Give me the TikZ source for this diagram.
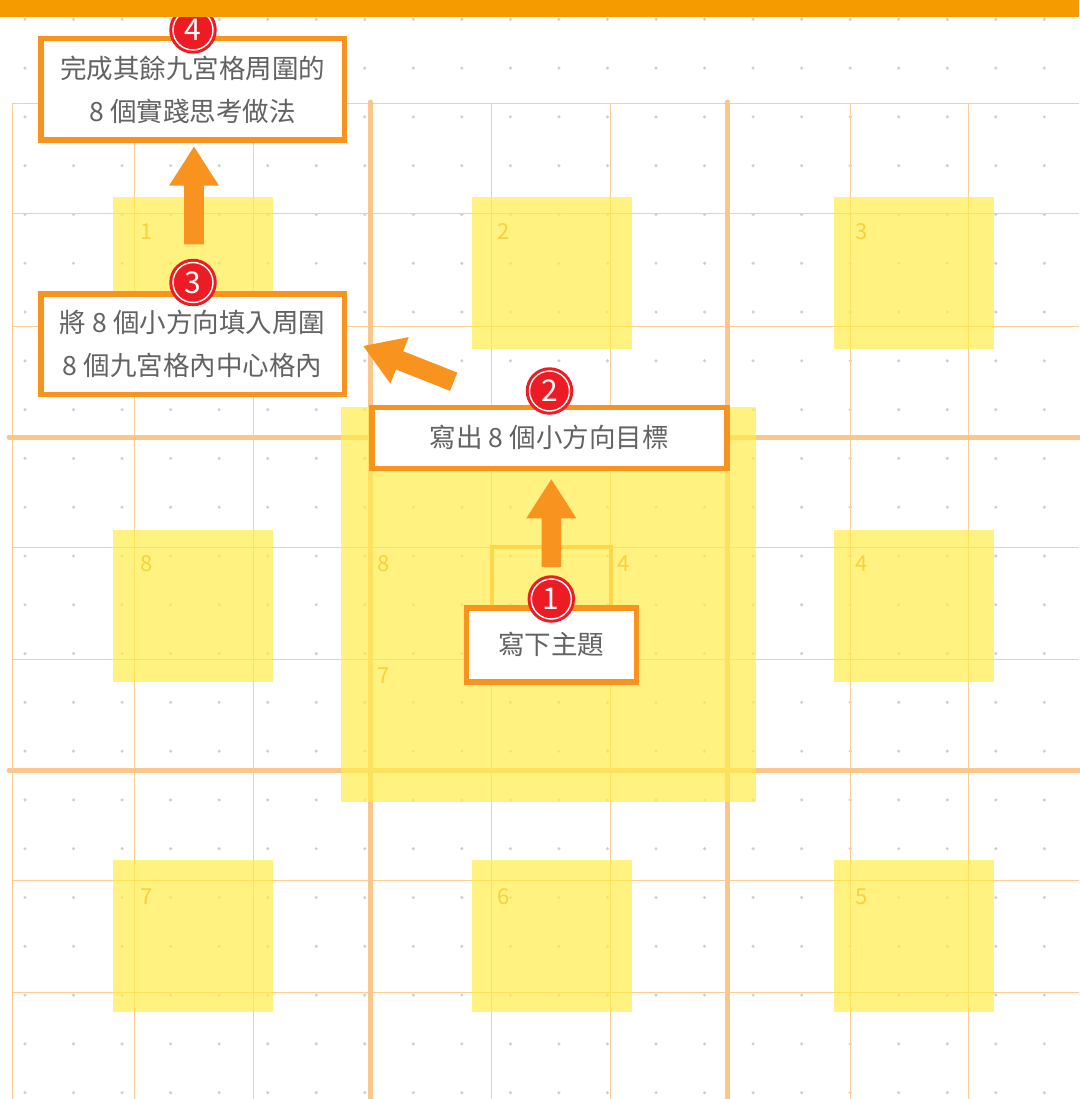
\documentclass[tikz,border=0pt]{standalone}
\usepackage{fontspec}
\setmainfont{Noto Sans CJK TC}
\usetikzlibrary{calc}
\definecolor{barorange}{HTML}{F59B00}
\definecolor{arroworange}{HTML}{F7931E}
\definecolor{gridorange}{HTML}{FDCD94}
\definecolor{thickorange}{HTML}{FBC68A}
\definecolor{stickyyellow}{HTML}{FFED45}
\definecolor{labelyellow}{HTML}{F9D13A}
\definecolor{celloutline}{HTML}{FDD84A}
\definecolor{dotgray}{HTML}{CFCFCF}
\definecolor{textgray}{HTML}{626262}
\definecolor{badgered}{HTML}{ED1C24}
\newcommand{\blockarrow}[2]{%
  \coordinate (tmpb) at ($(#2)!39pt!(#1)$);
  \fill[arroworange] ($(#1)!9.8pt!90:(#2)$) -- ($(tmpb)!9.8pt!90:(#2)$) -- ($(tmpb)!25pt!90:(#2)$) -- (#2)
    -- ($(tmpb)!25pt!-90:(#2)$) -- ($(tmpb)!9.8pt!-90:(#2)$) -- ($(#1)!9.8pt!-90:(#2)$) -- cycle;}
\begin{document}
\begin{tikzpicture}[x=1pt,y=-1pt,
  stepbox/.style={draw=arroworange, line width=5.5pt, fill=white, inner sep=0pt, text=textgray,
    font=\fontsize{26.5}{43}\selectfont, align=center},
  badge/.style={circle, fill=badgered, minimum size=47.5pt, inner sep=0pt, text=white,
    font=\fontsize{30}{30}\selectfont},
  ring/.style={white, line width=1.4pt},
  thinline/.style={gridorange, line width=1pt},
  thickline/.style={thickorange, line width=5pt, line cap=round},
  sticky/.style={fill=stickyyellow, fill opacity=0.68},
  celllabel/.style={text=labelyellow, font=\fontsize{22}{22}\selectfont, inner sep=0pt}
]
\useasboundingbox (0,0) rectangle (1079,1099);
\fill[white] (0,0) rectangle (1079,1099);
% dot grid
\foreach \i in {0,...,21}{
  \foreach \j in {0,...,22}{
    \fill[dotgray] ({25+48.54*\i},{19.3+48.79*\j}) circle[radius=1.7];
  }
}
% thin grid lines
\foreach \x in {12.3,134.3,253,491.5,610.7,850,968.3}{
  \draw[thinline] (\x,104) -- (\x,1099);
}
\foreach \y in {104,214,326,547,659,880,992}{
  \draw[thinline] (12.3,\y) -- (1079,\y);
}
% thick grid lines
\foreach \x in {370,727.7}{
  \draw[thickline] (\x,102) -- (\x,1102);
}
\foreach \y in {437,770}{
  \draw[thickline] (9,\y) -- (1082,\y);
}
% sticky notes
\foreach \x/\y in {113/197,472/197,834/197,113/530,834/530,113/860,472/860,834/860}{
  \fill[sticky] (\x,\y) rectangle ++(160,152);
}
\fill[sticky] (341,407) rectangle (756,802);
\draw[celloutline, line width=4pt] (491.5,547) rectangle (610.7,659);
% cell numbers
\node[celllabel] (n1) at (147,232) {1};
\node[celllabel] (n2) at (504,232) {2};
\node[celllabel] (n3) at (862,232) {3};
\node[celllabel] (n8) at (147,564) {8};
\node[celllabel] (n4) at (862,564) {4};
\node[celllabel] (n7) at (147,897) {7};
\node[celllabel] (n6) at (504,897) {6};
\node[celllabel] (n5) at (862,897) {5};
\node[celllabel] (c8) at (384,564) {8};
\node[celllabel] (c4) at (624,564) {4};
\node[celllabel] (c7) at (384,676) {7};
% step boxes
\node[stepbox, minimum width=303.5pt, minimum height=101.5pt] (box4) at (192.5,89.5)
  {完成其餘九宮格周圍的\\8 個實踐思考做法};
\node[stepbox, minimum width=303.5pt, minimum height=100.5pt] (box3) at (192.5,344)
  {將 8 個小方向填入周圍\\8 個九宮格內中心格內};
\node[stepbox, minimum width=355pt, minimum height=61pt] (box2) at (549.25,437.75)
  {寫出 8 個小方向目標};
\node[stepbox, minimum width=170pt, minimum height=74pt] (box1) at (551.25,644.75)
  {寫下主題};
% arrows
\coordinate (a1s) at (551.3,567);
\coordinate (a1t) at (551.3,479.3);
\coordinate (a2s) at (453.7,381.7);
\coordinate (a2t) at (363.3,346);
\coordinate (a3s) at (194,244.3);
\coordinate (a3t) at (194,146.7);
\blockarrow{a1s}{a1t}
\blockarrow{a2s}{a2t}
\blockarrow{a3s}{a3t}
% badges
\node[badge] (b1) at (551.3,599) {1};
\draw[ring] (b1.center) circle[radius=20];
\node[badge] (b2) at (549.5,391) {2};
\draw[ring] (b2.center) circle[radius=20];
\node[badge] (b3) at (193,282.5) {3};
\draw[ring] (b3.center) circle[radius=20];
\node[badge] (b4) at (193,30) {4};
\draw[ring] (b4.center) circle[radius=20];
% top bar
\fill[barorange] (0,0) rectangle (1079,16.7);
\end{tikzpicture}
\end{document}
